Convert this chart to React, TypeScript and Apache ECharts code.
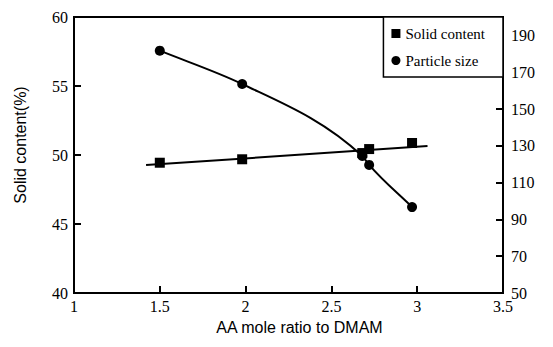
import React, { useEffect, useRef } from "react";
import * as echarts from "echarts";

const ratio = [1.5, 1.98, 2.68, 2.72, 2.97];
const solidContent = [49.44, 49.69, 50.14, 50.43, 50.87];
const particleSize = [181.7, 163.6, 124.5, 119.6, 96.7];
const fitX = [1.42, 3.06];
const fitY = [49.27, 50.65];

const serif = "'Liberation Serif', 'DejaVu Serif', serif";
const sans = "'Liberation Sans', Arial, sans-serif";

// monotone cubic tangents (Fritsch–Carlson) for the smooth particle-size curve
function tangents(xs: number[], ys: number[]) {
  const n = xs.length;
  const h: number[] = [];
  const d: number[] = [];
  for (let i = 0; i < n - 1; i++) {
    h[i] = xs[i + 1] - xs[i];
    d[i] = (ys[i + 1] - ys[i]) / h[i];
  }
  const m: number[] = new Array(n);
  m[0] = d[0];
  m[n - 1] = d[n - 2];
  for (let i = 1; i < n - 1; i++) {
    if (d[i - 1] * d[i] <= 0) m[i] = 0;
    else {
      const w1 = 2 * h[i] + h[i - 1];
      const w2 = h[i] + 2 * h[i - 1];
      m[i] = (w1 + w2) / (w1 / d[i - 1] + w2 / d[i]);
    }
  }
  return { h, m };
}

export default function App() {
  const ref = useRef<HTMLDivElement>(null);
  useEffect(() => {
    if (!ref.current) return;
    const chart = echarts.init(ref.current, undefined, { renderer: "svg" });
    const axisLine = { show: true, lineStyle: { color: "#000", width: 2 } };
    const axisTick = { show: true, inside: true, length: 7, lineStyle: { color: "#000", width: 2 } };
    const axisLabel = { color: "#000", fontFamily: serif, fontSize: 16 };
    const { h, m } = tangents(ratio, particleSize);
    chart.setOption({
      animation: false,
      backgroundColor: "#fff",
      grid: {
        left: 74,
        right: 50,
        top: 17,
        bottom: 54,
        containLabel: false,
        outerBoundsMode: "none",
        show: true,
        borderColor: "#000",
        borderWidth: 2,
      },
      legend: {
        right: 50,
        top: 17,
        orient: "vertical",
        data: [
          { name: "Solid content", icon: "rect" },
          { name: "Particle size", icon: "circle" },
        ],
        itemWidth: 9,
        itemHeight: 9,
        itemGap: 12,
        padding: [9, 18, 9, 8],
        borderColor: "#000",
        borderWidth: 1.5,
        backgroundColor: "#fff",
        itemStyle: { opacity: 1 },
        textStyle: { color: "#000", fontFamily: serif, fontSize: 15, lineHeight: 14 },
      },
      xAxis: {
        type: "value",
        min: 1,
        max: 3.5,
        interval: 0.5,
        name: "AA mole ratio to DMAM",
        nameLocation: "middle",
        nameGap: 26,
        nameTextStyle: { color: "#000", fontFamily: sans, fontSize: 16, padding: [0, 0, 0, 22] },
        axisLine,
        axisTick,
        axisLabel: { ...axisLabel, margin: 5 },
        splitLine: { show: false },
      },
      yAxis: [
        {
          type: "value",
          min: 40,
          max: 60,
          interval: 5,
          position: "left",
          name: "Solid content(%)",
          nameLocation: "middle",
          nameGap: 46,
          nameRotate: 90,
          nameTextStyle: { color: "#000", fontFamily: sans, fontSize: 16, padding: [0, 0, 0, 20] },
          axisLine,
          axisTick,
          axisLabel: { ...axisLabel, margin: 6 },
          splitLine: { show: false },
        },
        {
          type: "value",
          min: 50,
          max: 200,
          interval: 20,
          position: "right",
          axisLine,
          axisTick,
          axisLabel: { ...axisLabel, margin: 8, showMaxLabel: false },
          splitLine: { show: false },
        },
      ],
      series: [
        {
          name: "Solid fit",
          type: "line",
          yAxisIndex: 0,
          data: fitX.map((x, i) => [x, fitY[i]]),
          showSymbol: false,
          symbol: "none",
          lineStyle: { color: "#000", width: 2 },
          silent: true,
        },
        {
          name: "Particle curve",
          type: "custom",
          coordinateSystem: "cartesian2d",
          yAxisIndex: 1,
          data: ratio.map((x, i) => [x, particleSize[i]]),
          encode: { x: 0, y: 1 },
          silent: true,
          renderItem: (params: any, api: any) => {
            if (params.dataIndex !== 0) return null;
            const p0 = api.coord([ratio[0], particleSize[0]]);
            let d = `M${p0[0]} ${p0[1]}`;
            for (let i = 0; i < ratio.length - 1; i++) {
              const c1 = api.coord([ratio[i] + h[i] / 3, particleSize[i] + (m[i] * h[i]) / 3]);
              const c2 = api.coord([ratio[i + 1] - h[i] / 3, particleSize[i + 1] - (m[i + 1] * h[i]) / 3]);
              const e = api.coord([ratio[i + 1], particleSize[i + 1]]);
              d += ` C${c1[0]} ${c1[1]} ${c2[0]} ${c2[1]} ${e[0]} ${e[1]}`;
            }
            return {
              type: "path",
              shape: { pathData: d },
              style: { stroke: "#000", lineWidth: 2, fill: "none" },
            };
          },
          z: 2,
        },
        {
          name: "Solid content",
          type: "scatter",
          yAxisIndex: 0,
          data: ratio.map((x, i) => [x, solidContent[i]]),
          symbol: "rect",
          symbolSize: 10,
          itemStyle: { color: "#000", opacity: 1 },
          z: 3,
        },
        {
          name: "Particle size",
          type: "scatter",
          yAxisIndex: 1,
          data: ratio.map((x, i) => [x, particleSize[i]]),
          symbol: "circle",
          symbolSize: 10,
          itemStyle: { color: "#000", opacity: 1 },
          z: 3,
        },
      ],
    });
    return () => chart.dispose();
  }, []);
  return (
    <div
      ref={ref}
      style={{ position: "fixed", left: 0, top: 0, width: 553, height: 347, background: "#fff" }}
    />
  );
}
